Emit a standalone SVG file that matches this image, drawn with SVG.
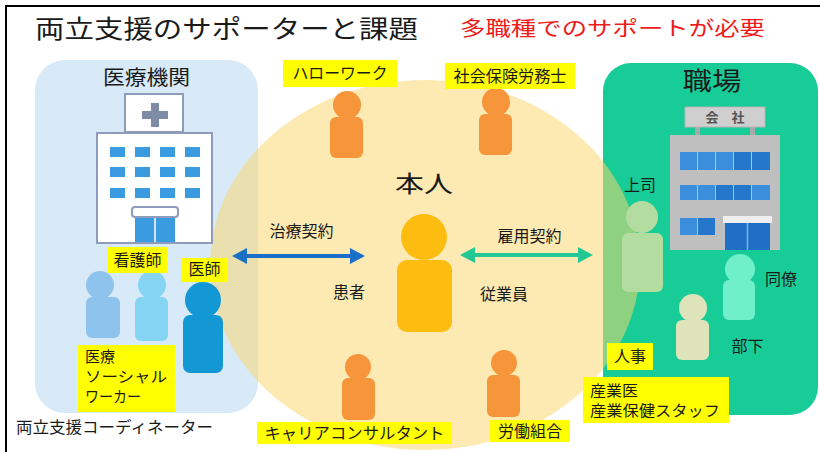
<svg xmlns="http://www.w3.org/2000/svg" width="820" height="452" viewBox="0 0 820 452">
  <defs>
    <style>
      text { font-family: "Noto Sans CJK JP", "Noto Sans", sans-serif; fill: #1a1a1a; }
      .lbl { font-size: 16px; }
      .ml { font-size: 15px; }
      .tag { fill: #ffff00; }
      .orange { fill: #f7953a; }
      .win { fill: #3b9be0; }
      .cwin { fill: #3a8edb; }
      .cwin2 { fill: #2577cc; }
      .outline { fill: #ffffff; stroke: #8f9bbd; stroke-width: 2; }
    </style>
    <marker id="headBlue" viewBox="0 0 15 16" refX="7" refY="8" markerWidth="15" markerHeight="16" markerUnits="userSpaceOnUse" orient="auto-start-reverse">
      <path d="M0,0 L15,8 L0,16 z" fill="#1a6fc9"/>
    </marker>
    <marker id="headGreen" viewBox="0 0 15 16" refX="7" refY="8" markerWidth="15" markerHeight="16" markerUnits="userSpaceOnUse" orient="auto-start-reverse">
      <path d="M0,0 L15,8 L0,16 z" fill="#22c994"/>
    </marker>
  </defs>

  <!-- background and frame -->
  <rect x="0" y="0" width="820" height="452" fill="#ffffff"/>
  <path d="M6,452 V6 H820" fill="none" stroke="#000000" stroke-width="2"/>

  <!-- headings -->
  <text x="35" y="38" font-size="25" textLength="383" lengthAdjust="spacingAndGlyphs">両立支援のサポーターと課題</text>
  <text x="460" y="36" font-size="20" textLength="305" lengthAdjust="spacingAndGlyphs" style="fill:#ee1c1c">多職種でのサポートが必要</text>

  <!-- panels -->
  <g id="medical-panel">
    <rect x="35" y="60" width="223" height="353" rx="30" fill="#d8eaf8"/>
    <text x="146.5" y="85" font-size="20" text-anchor="middle" textLength="87" lengthAdjust="spacingAndGlyphs">医療機関</text>
  </g>
  <g id="workplace-panel">
    <rect x="603" y="63" width="215" height="352" rx="28" fill="#17cc97"/>
    <text x="712" y="90" font-size="25" text-anchor="middle" textLength="59" lengthAdjust="spacingAndGlyphs">職場</text>
  </g>

  <!-- supporters circle around the worker -->
  <ellipse id="support-circle" cx="425" cy="265" rx="215" ry="185" fill="#fbd46c" opacity="0.52"/>

  <!-- hospital building -->
  <g id="hospital">
    <rect class="outline" x="125" y="94" width="58" height="38"/>
    <rect x="151" y="103" width="8" height="24" fill="#7f8ca6"/>
    <rect x="142" y="111" width="26" height="8" fill="#7f8ca6"/>
    <rect class="outline" x="97" y="133" width="115" height="110"/>
    <rect class="win" x="110" y="147" width="15" height="10"/>
    <rect class="win" x="135" y="147" width="15" height="10"/>
    <rect class="win" x="160" y="147" width="15" height="10"/>
    <rect class="win" x="185" y="147" width="15" height="10"/>
    <rect class="win" x="110" y="167" width="15" height="10"/>
    <rect class="win" x="135" y="167" width="15" height="10"/>
    <rect class="win" x="160" y="167" width="15" height="10"/>
    <rect class="win" x="185" y="167" width="15" height="10"/>
    <rect class="win" x="110" y="188" width="15" height="10"/>
    <rect class="win" x="135" y="188" width="15" height="10"/>
    <rect class="win" x="160" y="188" width="15" height="10"/>
    <rect class="win" x="185" y="188" width="15" height="10"/>
    <rect class="win" x="135" y="217" width="40" height="25"/>
    <line x1="155" y1="217" x2="155" y2="242" stroke="#ffffff" stroke-width="1.5"/>
    <rect class="outline" x="132" y="207" width="46" height="10" rx="3"/>
  </g>

  <!-- company building -->
  <g id="company">
    <rect x="695" y="126" width="5" height="10" fill="#a9a9a9"/>
    <rect x="750" y="126" width="5" height="10" fill="#a9a9a9"/>
    <rect x="685" y="107" width="80" height="20" fill="#cfcfcf" stroke="#b5b5b5" stroke-width="1"/>
    <text x="725" y="122" font-size="13" font-weight="bold" text-anchor="middle" style="fill:#555555">会　社</text>
    <rect x="670" y="135" width="110" height="115" fill="#bfbfbf"/>
    <rect class="cwin" x="680" y="152" width="17" height="18"/>
    <rect class="cwin" x="698" y="152" width="17" height="18"/>
    <rect class="cwin" x="716" y="152" width="17" height="18"/>
    <rect class="cwin2" x="734" y="152" width="17" height="18"/>
    <rect class="cwin2" x="752" y="152" width="18" height="18"/>
    <rect class="cwin" x="680" y="185" width="17" height="15"/>
    <rect class="cwin" x="698" y="185" width="17" height="15"/>
    <rect class="cwin2" x="716" y="185" width="17" height="15"/>
    <rect class="cwin2" x="734" y="185" width="17" height="15"/>
    <rect class="cwin" x="752" y="185" width="18" height="15"/>
    <rect class="cwin" x="680" y="218" width="17" height="17"/>
    <rect class="cwin2" x="698" y="218" width="17" height="17"/>
    <rect x="723" y="216" width="49" height="7" fill="#eeeeee"/>
    <rect x="725" y="223" width="45" height="27" fill="#1f6fc7"/>
    <line x1="747.5" y1="223" x2="747.5" y2="250" stroke="#7fb2e6" stroke-width="1.5"/>
  </g>

  <!-- medical staff -->
  <g id="nurse-a">
    <circle cx="100" cy="285" r="14" fill="#8ec3ee"/>
    <rect x="86" y="297" width="34" height="41" rx="6" fill="#8ec3ee"/>
  </g>
  <g id="nurse-b">
    <circle cx="152" cy="285" r="14" fill="#86d4f3"/>
    <rect x="135" y="297" width="33" height="44" rx="6" fill="#86d4f3"/>
  </g>
  <g id="doctor">
    <circle cx="203" cy="300" r="18" fill="#1397d5"/>
    <rect x="183" y="315" width="40" height="58" rx="7" fill="#1397d5"/>
  </g>
  <g id="nurse-label">
    <rect class="tag" x="108" y="247" width="59" height="26"/>
    <text class="lbl" x="137.5" y="266" text-anchor="middle">看護師</text>
  </g>
  <g id="doctor-label">
    <rect class="tag" x="181" y="258" width="47" height="24"/>
    <text class="lbl" x="204.5" y="275" text-anchor="middle">医師</text>
  </g>
  <g id="msw-label">
    <rect class="tag" x="78" y="345" width="97" height="67"/>
    <text class="ml" x="85" y="362">医療</text>
    <text class="ml" x="85" y="382" textLength="82" lengthAdjust="spacingAndGlyphs">ソーシャル</text>
    <text class="ml" x="85" y="402" textLength="56" lengthAdjust="spacingAndGlyphs">ワーカー</text>
  </g>
  <g id="coordinator">
    <text class="lbl" x="16" y="433" textLength="197" lengthAdjust="spacingAndGlyphs">両立支援コーディネーター</text>
  </g>

  <!-- outside supporters -->
  <g id="hellowork">
    <circle class="orange" cx="347" cy="105" r="14"/>
    <rect class="orange" x="330" y="117" width="33" height="41" rx="6"/>
    <rect class="tag" x="283" y="60" width="114" height="27"/>
    <text class="lbl" x="340" y="79" text-anchor="middle" textLength="95" lengthAdjust="spacingAndGlyphs">ハローワーク</text>
  </g>
  <g id="labor-consultant">
    <circle class="orange" cx="496" cy="102" r="14"/>
    <rect class="orange" x="479" y="114" width="33" height="41" rx="6"/>
    <rect class="tag" x="445" y="63" width="130" height="26"/>
    <text class="lbl" x="510" y="82" text-anchor="middle" textLength="113" lengthAdjust="spacingAndGlyphs">社会保険労務士</text>
  </g>
  <g id="career-consultant">
    <circle class="orange" cx="358" cy="367" r="13"/>
    <rect class="orange" x="342" y="378" width="33" height="42" rx="6"/>
    <rect class="tag" x="257" y="422" width="195" height="22"/>
    <text class="lbl" x="354.5" y="439" text-anchor="middle" textLength="180" lengthAdjust="spacingAndGlyphs">キャリアコンサルタント</text>
  </g>
  <g id="union">
    <circle class="orange" cx="504" cy="363" r="13"/>
    <rect class="orange" x="487" y="375" width="33" height="42" rx="6"/>
    <rect class="tag" x="490" y="420" width="80" height="22"/>
    <text class="lbl" x="530" y="437" text-anchor="middle">労働組合</text>
  </g>

  <!-- the worker -->
  <g id="worker">
    <text x="424" y="192" font-size="23" text-anchor="middle" textLength="58" lengthAdjust="spacingAndGlyphs">本人</text>
    <circle cx="424" cy="237" r="23" fill="#fdbd10"/>
    <rect x="397" y="260" width="55" height="72" rx="10" fill="#fdbd10"/>
    <text class="lbl" x="349" y="298" text-anchor="middle">患者</text>
    <text class="lbl" x="504" y="300" text-anchor="middle">従業員</text>
  </g>

  <!-- workplace people -->
  <g id="boss">
    <text class="lbl" x="640" y="191" text-anchor="middle">上司</text>
    <circle cx="642" cy="217" r="16" fill="#b3dda0"/>
    <rect x="622" y="233" width="41" height="59" rx="6" fill="#b3dda0"/>
  </g>
  <g id="colleague">
    <circle cx="740" cy="269" r="15" fill="#6ff0c8"/>
    <rect x="723" y="280" width="32" height="40" rx="6" fill="#6ff0c8"/>
    <text class="lbl" x="781" y="285" text-anchor="middle">同僚</text>
  </g>
  <g id="subordinate">
    <circle cx="693" cy="308" r="14" fill="#dfe3b9"/>
    <rect x="676" y="320" width="33" height="40" rx="6" fill="#dfe3b9"/>
    <text class="lbl" x="747.5" y="352" text-anchor="middle">部下</text>
  </g>
  <g id="hr">
    <rect class="tag" x="607" y="343" width="46" height="27"/>
    <text class="lbl" x="630" y="362" text-anchor="middle">人事</text>
  </g>
  <g id="occupational-health">
    <rect class="tag" x="583" y="377" width="146" height="46"/>
    <text class="ml" x="590" y="396" textLength="48" lengthAdjust="spacingAndGlyphs">産業医</text>
    <text class="ml" x="590" y="416" textLength="130" lengthAdjust="spacingAndGlyphs">産業保健スタッフ</text>
  </g>

  <!-- contract connectors -->
  <g id="connectors">
    <line x1="240" y1="256" x2="357" y2="256" stroke="#1a6fc9" stroke-width="4" marker-start="url(#headBlue)" marker-end="url(#headBlue)"/>
    <text class="lbl" x="301.5" y="237" text-anchor="middle">治療契約</text>
    <line x1="468" y1="255" x2="585" y2="255" stroke="#22c994" stroke-width="4" marker-start="url(#headGreen)" marker-end="url(#headGreen)"/>
    <text class="lbl" x="529.5" y="242" text-anchor="middle">雇用契約</text>
  </g>
</svg>
